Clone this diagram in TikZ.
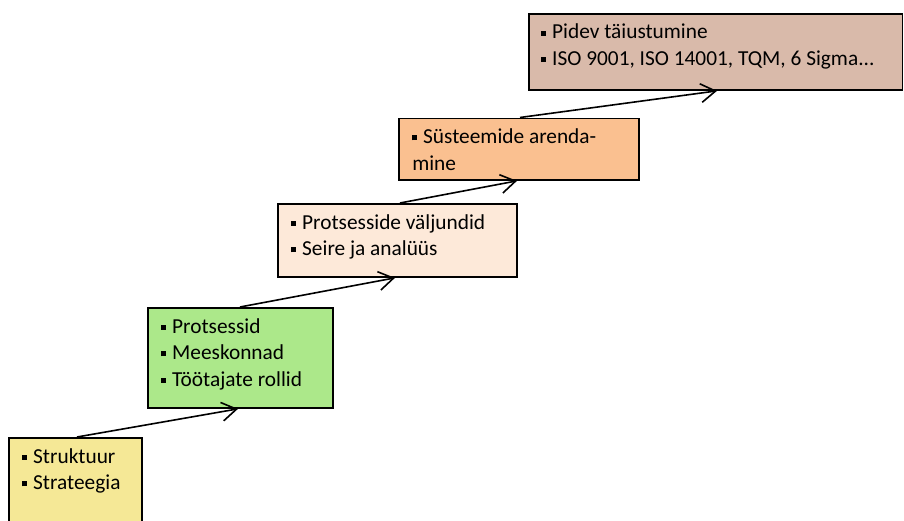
\documentclass[tikz,border=0pt]{standalone}
\usepackage{fontspec}
\setmainfont{Carlito}
\usetikzlibrary{arrows.meta,calc}

\definecolor{stepyellow}{RGB}{245,232,150}
\definecolor{stepgreen}{RGB}{172,232,138}
\definecolor{steppeach}{RGB}{253,233,217}
\definecolor{steporange}{RGB}{250,192,144}
\definecolor{stepbrown}{RGB}{217,186,170}

% small square bullet followed by the item text
\newcommand{\bul}{\makebox[8.2pt][l]{\rule[2.5pt]{3.8pt}{3.8pt}}}

\tikzset{
  stepbox/.style={draw=black, line width=1.4pt, rectangle, inner sep=0pt, anchor=north west},
  steptext/.style={anchor=north west, inner sep=0pt, align=left,
    font=\fontsize{16}{19.9}\selectfont},
  steparrow/.style={draw=black, line width=1.2pt,
    -{Straight Barb[length=11pt,width=14pt,line width=1.2pt]}},
}

\begin{document}
\begin{tikzpicture}[x=0.75pt,y=-0.75pt]
  \useasboundingbox (0,0) rectangle (904,521);
  \clip (0,0) rectangle (904,521);

  % the five steps of the staircase
  \node[stepbox, fill=stepyellow, minimum width=133*0.75pt, minimum height=110*0.75pt] (b1) at (8,437) {};
  \node[stepbox, fill=stepgreen,  minimum width=185*0.75pt, minimum height=100*0.75pt] (b2) at (147,307) {};
  \node[stepbox, fill=steppeach,  minimum width=239*0.75pt, minimum height=73*0.75pt]  (b3) at (277,203) {};
  \node[stepbox, fill=steporange, minimum width=240*0.75pt, minimum height=61.5*0.75pt] (b4) at (398,117.5) {};
  \node[stepbox, fill=stepbrown,  minimum width=373.5*0.75pt, minimum height=76.3*0.75pt] (b5) at (528,12.7) {};

  % texts
  \node[steptext] (t1) at ($(b1.north west)+(14,7.4)$) {\strut\bul Struktuur\\\bul Strateegia};
  \node[steptext] (t2) at ($(b2.north west)+(14,7.4)$) {\strut\bul Protsessid\\\bul Meeskonnad\\\bul Töötajate rollid};
  \node[steptext] (t3) at ($(b3.north west)+(14,7.4)$) {\strut\bul Protsesside väljundid\\\bul Seire ja analüüs};
  \node[steptext] (t4) at ($(b4.north west)+(14,7.4)$) {\strut\bul Süsteemide arenda-\\mine};
  \node[steptext] (t5) at ($(b5.north west)+(13,7.4)$) {\strut\bul Pidev täiustumine\\\bul ISO 9001, ISO 14001, TQM, 6 Sigma...};

  % arrows climbing from step to step
  \draw[steparrow] ($(b1.north west)+(69,0)$)  -- ($(b2.south west)+(91,0)$);
  \draw[steparrow] ($(b2.north west)+(93,0)$)  -- ($(b3.south west)+(118,0)$);
  \draw[steparrow] ($(b3.north west)+(123,0)$) -- ($(b4.south west)+(119,0)$);
  \draw[steparrow] ($(b4.north west)+(122,0)$) -- ($(b5.south west)+(189,0)$);
\end{tikzpicture}
\end{document}
